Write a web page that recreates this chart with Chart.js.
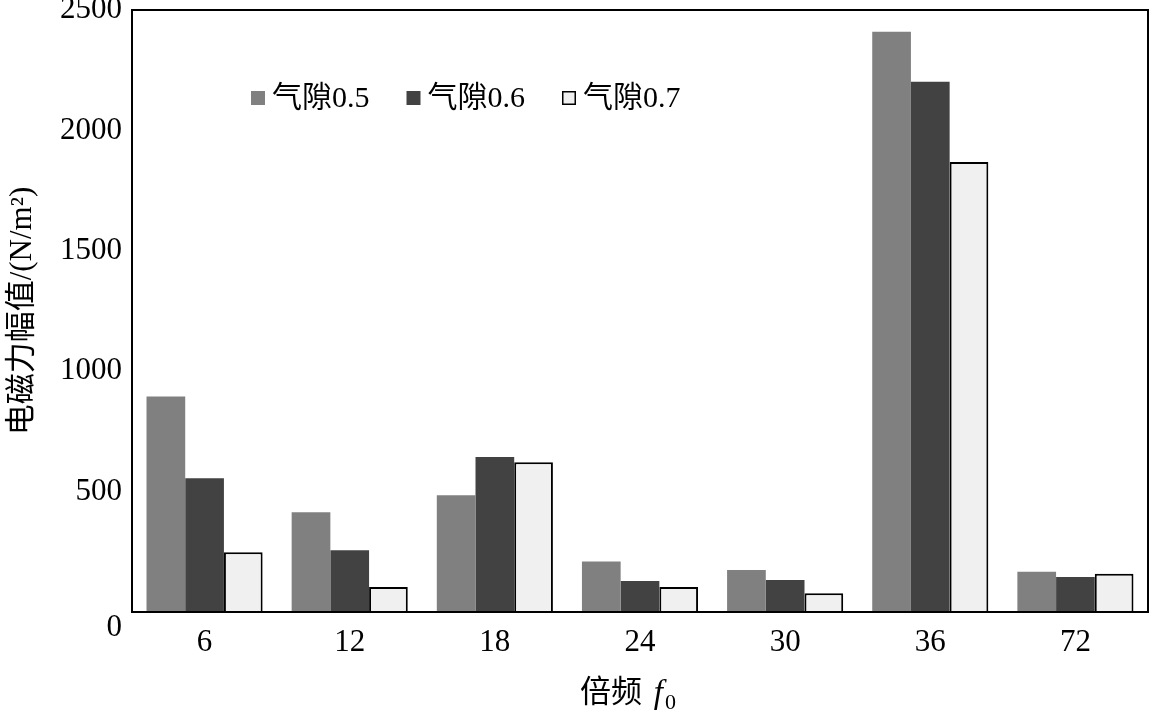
<!DOCTYPE html>
<html>
<head>
<meta charset="utf-8">
<script src="https://cdn.jsdelivr.net/npm/chart.js@4"></script>
<style>
html,body{margin:0;padding:0;background:#fff;}
#wrap{width:1150px;height:718px;position:relative;}
</style>
</head>
<body>
<div id="wrap"><canvas id="c" width="1150" height="718"></canvas></div>
<script>
const categories = ['6', '12', '18', '24', '30', '36', '72'];
const gap05 = [895, 414, 485, 210, 174, 2410, 167];
const gap06 = [555, 256, 644, 129, 133, 2202, 145];
const gap07 = [248, 104, 622, 104, 78, 1869, 159];
const seriesLabels = ['气隙0.5', '气隙0.6', '气隙0.7'];
const yTicks = [0, 500, 1000, 1500, 2000, 2500];

const FONT = "'Liberation Serif', 'Times New Roman', 'Noto Sans CJK SC', serif";

const frame = {
  id: 'frame',
  afterDraw(chart) {
    const {ctx, chartArea: a, scales} = chart;
    ctx.save();
    ctx.strokeStyle = '#000';
    ctx.lineWidth = 2;
    ctx.strokeRect(a.left, a.top, a.right - a.left, a.bottom - a.top);
    // "0" label sits below the axis line in the reference
    ctx.fillStyle = '#000';
    ctx.font = '31px ' + FONT;
    ctx.textAlign = 'right';
    ctx.textBaseline = 'middle';
    ctx.fillText(String(yTicks[0]), a.left - 10, scales.y.getPixelForValue(yTicks[0]) + 16);
    // x axis title: 倍频 f0
    const cx = (a.left + a.right) / 2 - 12;
    const ty = 694;
    ctx.textAlign = 'left';
    ctx.textBaseline = 'middle';
    ctx.font = '31px ' + FONT;
    const t1 = '倍频 ';
    const w1 = ctx.measureText(t1).width;
    ctx.font = 'italic 33px ' + FONT;
    const w2 = ctx.measureText('f').width;
    ctx.font = '22px ' + FONT;
    const w3 = ctx.measureText('0').width;
    let x = cx - (w1 + w2 + w3 + 6) / 2;
    ctx.font = '31px ' + FONT;
    ctx.fillText(t1, x, ty);
    x += w1 + 4;
    ctx.font = 'italic 33px ' + FONT;
    ctx.fillText('f', x, ty);
    x += w2 + 2;
    ctx.font = '22px ' + FONT;
    ctx.fillText('0', x, ty + 9);
    // legend inside the plot
    let lx = a.left + 119;
    const ly = 98;
    chart.data.datasets.forEach((ds) => {
      ctx.fillStyle = ds.backgroundColor;
      ctx.fillRect(lx, ly - 7, 14, 14);
      if (ds.borderWidth) {
        ctx.strokeStyle = '#000';
        ctx.lineWidth = 1.5;
        ctx.strokeRect(lx + 0.75, ly - 6.25, 12.5, 12.5);
      }
      ctx.fillStyle = '#000';
      ctx.font = '30px ' + FONT;
      ctx.fillText(ds.label, lx + 21, ly + 1);
      lx += 21 + ctx.measureText(ds.label).width + 37;
    });
    ctx.restore();
  }
};

new Chart(document.getElementById('c'), {
  type: 'bar',
  data: {
    labels: categories,
    datasets: [
      {label: seriesLabels[0], data: gap05, backgroundColor: '#808080', borderWidth: 0},
      {label: seriesLabels[1], data: gap06, backgroundColor: '#424242', borderWidth: 0},
      {label: seriesLabels[2], data: gap07, backgroundColor: '#f0f0f0', borderColor: '#000', borderWidth: 2}
    ]
  },
  options: {
    responsive: false,
    animation: false,
    devicePixelRatio: 1,
    layout: {padding: {left: 0, right: 2, top: 10, bottom: 0}},
    datasets: {bar: {categoryPercentage: 0.8, barPercentage: 1.0}},
    plugins: {legend: {display: false}, tooltip: {enabled: false}},
    scales: {
      x: {
        grid: {display: false, drawTicks: false},
        border: {display: true, color: '#000', width: 2},
        ticks: {color: '#000', font: {family: FONT, size: 31}, padding: 12},
        afterFit(s) { s.height = 106; s.paddingLeft = 0; s.paddingRight = 0; }
      },
      y: {
        min: 0, max: 2500,
        afterBuildTicks(s) { s.ticks = yTicks.map(v => ({value: v})); },
        grid: {display: false, drawTicks: false},
        border: {display: true, color: '#000', width: 2},
        ticks: {
          color: '#000', font: {family: FONT, size: 31}, padding: 10,
          callback: (v) => v === 0 ? '' : String(v)
        },
        title: {
          display: true, text: '电磁力幅值/(N/m²)', color: '#000',
          font: {family: FONT, size: 31}, padding: {top: 4, bottom: 0}
        },
        afterFit(s) { s.width = 132; s.paddingTop = 0; s.paddingBottom = 0; }
      }
    }
  },
  plugins: [frame]
});
</script>
</body>
</html>
